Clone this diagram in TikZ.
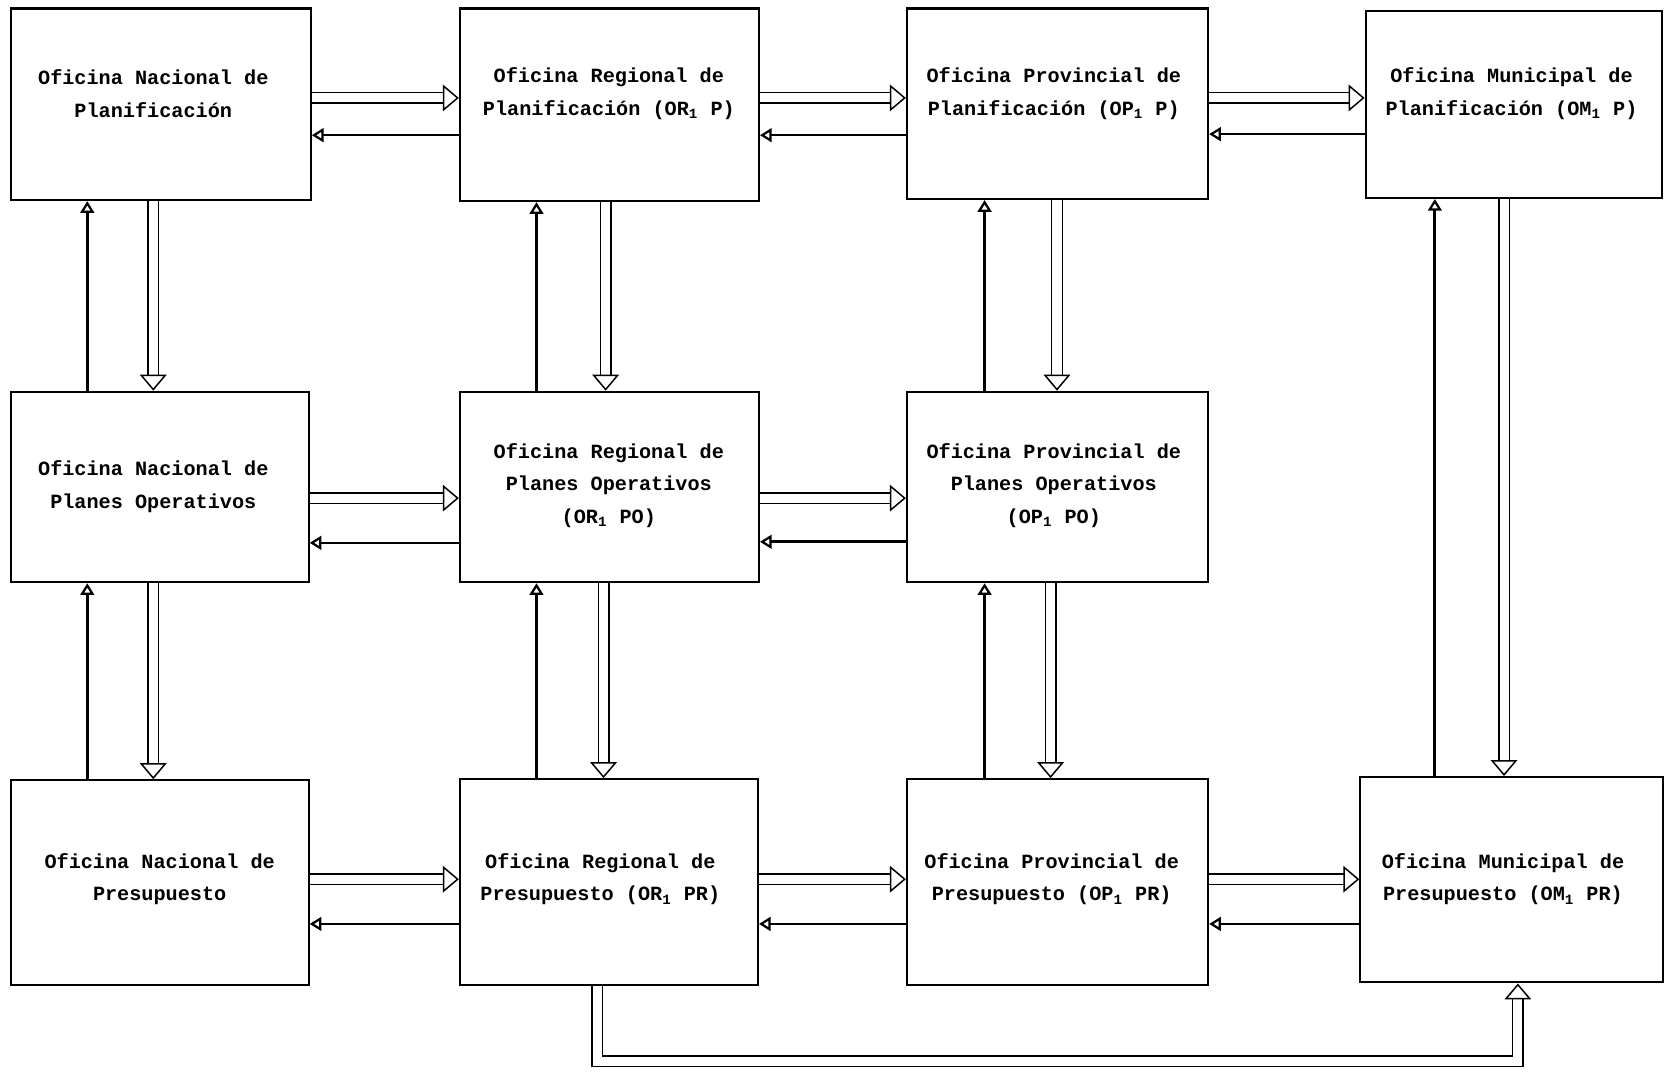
\documentclass[tikz,border=0pt]{standalone}
\usepackage{fontspec}
\setmainfont{Liberation Mono}
\usetikzlibrary{arrows.meta,fit,calc}
\begin{document}
\begin{tikzpicture}[x=0.02cm,y=-0.02cm,
  box/.style={draw, line width=1.1pt, inner sep=0pt},
  lbl/.style={align=center, font=\fontsize{10.8}{17.5}\selectfont\bfseries},
  ret/.style={line width=1.4pt, -{Triangle[open, length=0.22cm, width=0.26cm, line width=1.2pt]}},
  upar/.style={line width=1.7pt, -{Triangle[open, length=0.22cm, width=0.26cm, line width=1.2pt]}},
  dbl/.style={double, double distance=0.17cm, line width=0.8pt, -{Triangle[open, length=0.3cm, width=0.5cm]}}
]
\useasboundingbox (0,0) rectangle (1568,1008);
% boxes
\node[box, fit={(10,8) (292,188)}] (A1) {};
\node[box, fit={(432,8) (713,189)}] (A2) {};
\node[box, fit={(852,8) (1135,187)}] (A3) {};
\node[box, fit={(1283,10) (1561,186)}] (A4) {};
\node[box, fit={(10,368) (290,547)}] (B1) {};
\node[box, fit={(432,368) (713,547)}] (B2) {};
\node[box, fit={(852,368) (1135,547)}] (B3) {};
\node[box, fit={(10,733) (290,925)}] (C1) {};
\node[box, fit={(432,732) (712,925)}] (C2) {};
\node[box, fit={(852,732) (1135,925)}] (C3) {};
\node[box, fit={(1278,730) (1562,923)}] (C4) {};
% labels
\node[lbl] (A1t) at (144,88) {Oficina Nacional de\\Planificación};
\node[lbl] (A2t) at (572,88) {Oficina Regional de\\Planificación (OR\textsubscript{1} P)};
\node[lbl] (A3t) at (990,88) {Oficina Provincial de\\Planificación (OP\textsubscript{1} P)};
\node[lbl] (A4t) at (1420,88) {Oficina Municipal de\\Planificación (OM\textsubscript{1} P)};
\node[lbl] (B1t) at (144,457) {Oficina Nacional de\\Planes Operativos};
\node[lbl] (B2t) at (572,456) {Oficina Regional de\\Planes Operativos\\(OR\textsubscript{1} PO)};
\node[lbl] (B3t) at (990,456) {Oficina Provincial de\\Planes Operativos\\(OP\textsubscript{1} PO)};
\node[lbl] (C1t) at (150,826) {Oficina Nacional de\\Presupuesto};
\node[lbl] (C2t) at (564,826) {Oficina Regional de\\Presupuesto (OR\textsubscript{1} PR)};
\node[lbl] (C3t) at (988,826) {Oficina Provincial de\\Presupuesto (OP\textsubscript{1} PR)};
\node[lbl] (C4t) at (1412,826) {Oficina Municipal de\\Presupuesto (OM\textsubscript{1} PR)};
% horizontal row 1
\draw[dbl] (A1.east |- 0,92) -- (A2.west |- 0,92);
\draw[ret] (A2.west |- 0,127) -- (A1.east |- 0,127);
\draw[dbl] (A2.east |- 0,92) -- (A3.west |- 0,92);
\draw[ret] (A3.west |- 0,127) -- (A2.east |- 0,127);
\draw[dbl] (A3.east |- 0,92) -- (A4.west |- 0,92);
\draw[ret] (A4.west |- 0,126) -- (A3.east |- 0,126);
% horizontal row 2
\draw[dbl] (B1.east |- 0,468) -- (B2.west |- 0,468);
\draw[ret] (B2.west |- 0,510) -- (B1.east |- 0,510);
\draw[dbl] (B2.east |- 0,468) -- (B3.west |- 0,468);
\draw[ret] (B3.west |- 0,509) -- (B2.east |- 0,509);
% horizontal row 3
\draw[dbl] (C1.east |- 0,826) -- (C2.west |- 0,826);
\draw[ret] (C2.west |- 0,868) -- (C1.east |- 0,868);
\draw[dbl] (C2.east |- 0,826) -- (C3.west |- 0,826);
\draw[ret] (C3.west |- 0,868) -- (C2.east |- 0,868);
\draw[dbl] (C3.east |- 0,826) -- (C4.west |- 0,826);
\draw[ret] (C4.west |- 0,868) -- (C3.east |- 0,868);
% vertical column 1
\draw[upar] (B1.north -| 82,0) -- (A1.south -| 82,0);
\draw[dbl] (A1.south -| 144,0) -- (B1.north -| 144,0);
\draw[upar] (C1.north -| 82,0) -- (B1.south -| 82,0);
\draw[dbl] (B1.south -| 144,0) -- (C1.north -| 144,0);
% vertical column 2
\draw[upar] (B2.north -| 504,0) -- (A2.south -| 504,0);
\draw[dbl] (A2.south -| 569,0) -- (B2.north -| 569,0);
\draw[upar] (C2.north -| 504,0) -- (B2.south -| 504,0);
\draw[dbl] (B2.south -| 567,0) -- (C2.north -| 567,0);
% vertical column 3
\draw[upar] (B3.north -| 925,0) -- (A3.south -| 925,0);
\draw[dbl] (A3.south -| 993,0) -- (B3.north -| 993,0);
\draw[upar] (C3.north -| 925,0) -- (B3.south -| 925,0);
\draw[dbl] (B3.south -| 987,0) -- (C3.north -| 987,0);
% column 4
\draw[upar] (C4.north -| 1348,0) -- (A4.south -| 1348,0);
\draw[dbl] (A4.south -| 1413,0) -- (C4.north -| 1413,0);
% bottom loop
\coordinate (L1) at (561,997);
\coordinate (L2) at (1426,997);
\draw[dbl] (C2.south -| L1) -- (L1) -- (L2) -- (C4.south -| L2);
\end{tikzpicture}
\end{document}
